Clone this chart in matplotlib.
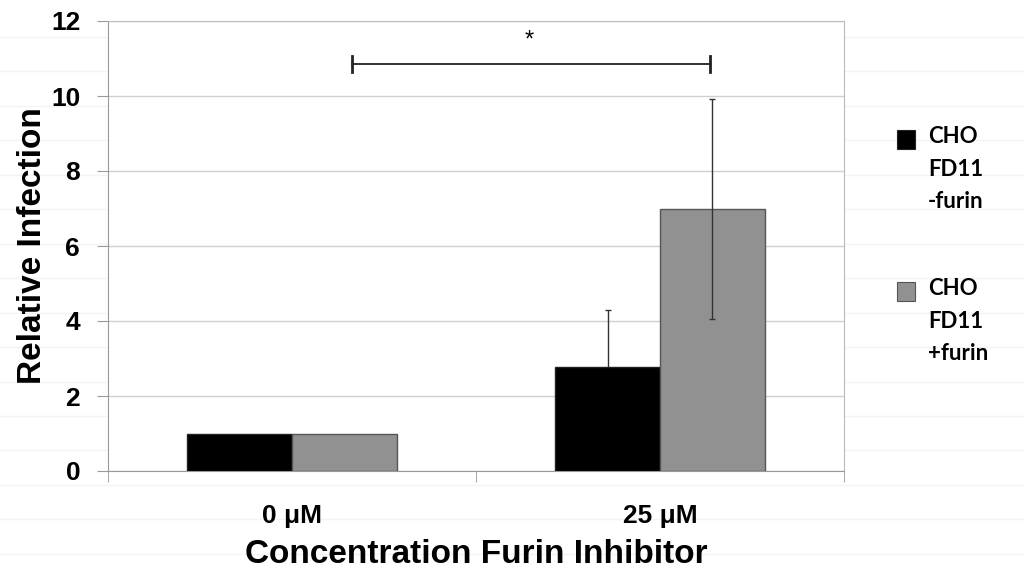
import matplotlib
matplotlib.use("Agg")
import matplotlib.pyplot as plt
from matplotlib.patches import Rectangle
from matplotlib.lines import Line2D
import numpy as np

categories = ["0 μM", "25 μM"]
series_names = ["CHO\nFD11\n-furin", "CHO\nFD11\n+furin"]
minus_furin = [1.0, 2.77]
plus_furin = [1.0, 6.98]
minus_err = [0.0, 1.52]
plus_err = [0.0, 2.93]
sig_y = 10.85
sig_label = "*"

colors = ["#000000", "#919191"]
edges = ["#222222", "#555555"]

plt.rcParams["font.family"] = ["Liberation Sans", "DejaVu Sans"]

fig = plt.figure(figsize=(10.24, 5.87), dpi=100)

# faint background lines of the page
for yy in np.arange(37, 587, 34.45):
    fig.add_artist(Line2D([0, 1], [1 - yy / 587, 1 - yy / 587], color="#f3f3f3", lw=1, zorder=-5))

ax = fig.add_axes([108 / 1024, 1 - 471 / 587, (844 - 108) / 1024, (471 - 21) / 587])
x = np.arange(len(categories))
w = 0.285

ax.bar(x - w / 2, minus_furin, w, color=colors[0], edgecolor=edges[0], linewidth=1, zorder=3)
ax.bar(x + w / 2, plus_furin, w, color=colors[1], edgecolor=edges[1], linewidth=1, zorder=3)

for xi, v, e in zip(x - w / 2, minus_furin, minus_err):
    if e > 0:
        ax.errorbar(xi, v, yerr=e, fmt="none", ecolor="#333333", elinewidth=1, capsize=2.5, capthick=1, zorder=2.9)
for xi, v, e in zip(x + w / 2, plus_furin, plus_err):
    if e > 0:
        ax.errorbar(xi, v, yerr=e, fmt="none", ecolor="#333333", elinewidth=1, capsize=2.5, capthick=1, zorder=4)

# significance bracket
xl, xr = x[0] + 0.162, x[1] + 0.136
ax.plot([xl, xr], [sig_y, sig_y], color="#222222", lw=1.3, zorder=5, clip_on=False)
ax.plot([xl, xl], [sig_y - 0.22, sig_y + 0.22], color="#222222", lw=2, zorder=5, clip_on=False)
ax.plot([xr, xr], [sig_y - 0.22, sig_y + 0.22], color="#222222", lw=2, zorder=5, clip_on=False)
ax.text((x[0] + x[1]) / 2 + 0.145, sig_y + 0.62, sig_label, ha="center", va="center", fontsize=17)

ax.set_xlim(-0.5, 1.5)
ax.set_ylim(0, 12)
ax.set_yticks(np.arange(0, 13, 2))
ax.yaxis.grid(True, color="#d0d0d0", lw=1)
ax.set_axisbelow(True)

ax.set_xticks(x)
ax.set_xticklabels(categories, fontsize=19, fontweight="bold")
ax.set_xticks([-0.5, 0.5, 1.5], minor=True)
ax.tick_params(axis="x", which="major", length=0, pad=24)
ax.tick_params(axis="x", which="minor", length=8, color="#999999")
ax.tick_params(axis="y", length=8, color="#999999", pad=12, labelsize=19)
for lab in ax.get_yticklabels():
    lab.set_fontweight("bold")

for s in ["top", "right"]:
    ax.spines[s].set_color("#bbbbbb")
for s in ["left", "bottom"]:
    ax.spines[s].set_color("#999999")

ax.set_xlabel("Concentration Furin Inhibitor", fontsize=24, fontweight="bold", labelpad=8)
ax.set_ylabel("Relative Infection", fontsize=24, fontweight="bold", labelpad=2)

# legend
square_centers = [139.5, 291.5]
text_centers = [138, 290]
for i, (name, c, ec) in enumerate(zip(series_names, colors, edges)):
    sy = square_centers[i]
    ty = text_centers[i]
    fig.add_artist(Rectangle((897 / 1024, 1 - (sy + 9.5) / 587), 18 / 1024, 19 / 587,
                             facecolor=c, edgecolor=ec, lw=0.8, transform=fig.transFigure))
    fig.text(928 / 1024, 1 - (ty - 12) / 587, name, fontsize=16, fontweight="bold",
             family=["Lato", "DejaVu Sans"], va="top", ha="left", linespacing=1.68)

fig.savefig("out.png", dpi=100)
